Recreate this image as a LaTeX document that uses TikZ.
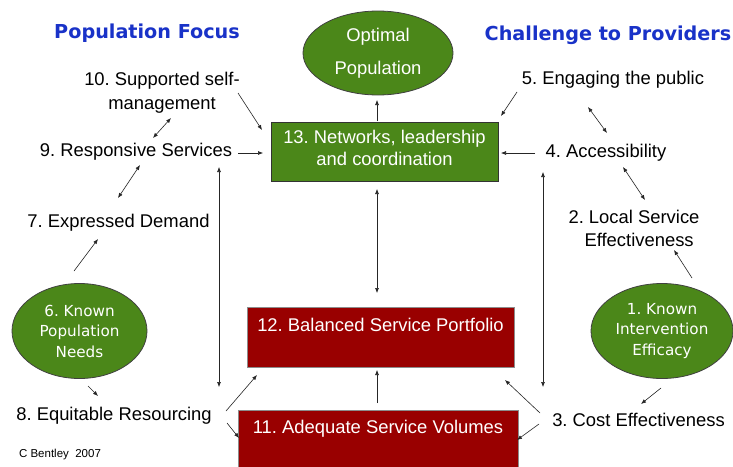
\documentclass[tikz,border=0pt]{standalone}
\usepackage{fontspec}
\setmainfont{Liberation Sans}
\newfontfamily\hdrfont{DejaVu Sans}
\usetikzlibrary{shapes.geometric,arrows.meta}
\definecolor{grn}{RGB}{75,135,25}
\definecolor{dred}{RGB}{153,0,0}
\definecolor{hblue}{RGB}{25,50,200}
\frenchspacing
\begin{document}
\begin{tikzpicture}[x=1pt,y=-1pt,
  lbl/.style={font=\fontsize{18.4}{24}\selectfont, inner sep=0pt, align=center},
  hdr/.style={font=\hdrfont\bfseries\fontsize{19.2}{22}\selectfont, text=hblue, inner sep=0pt, anchor=base},
  ell/.style={ellipse, draw=black!75, line width=0.8pt, fill=grn, text=white, inner sep=0pt, align=center},
  ellsm/.style={ell, font=\hdrfont\fontsize{15.2}{20.5}\selectfont},
  gbox/.style={draw=black!80, line width=0.8pt, fill=grn, text=white, inner sep=0pt, align=center, font=\fontsize{18.4}{22}\selectfont},
  rbox/.style={draw=black!45, line width=0.6pt, fill=dred, text=white, inner sep=0pt, font=\fontsize{18.4}{22}\selectfont},
  arr/.style={-{Latex[length=5pt,width=4pt]}, draw=black!85, line width=0.6pt},
  darr/.style={{Latex[length=5pt,width=4pt]}-{Latex[length=5pt,width=4pt]}, draw=black!85, line width=0.6pt}
]
\useasboundingbox[fill=white] (0,0) rectangle (733,466);

% headers
\node[hdr] (hpop) at (147,38) {Population Focus};
\node[hdr] (hchal) at (608,40) {Challenge to Providers};

% central boxes / ellipses
\node[ell, minimum width=150pt, minimum height=84pt, font=\fontsize{18.4}{33}\selectfont] (opt) at (378,53) {Optimal\\Population};
\node[gbox, minimum width=227pt, minimum height=59pt, text depth=7pt] (b13) at (384.5,151.5) {13. Networks, leadership\\and coordination};
\node[rbox, minimum width=267pt, minimum height=60pt, text height=13pt, text depth=25pt] (b12) at (380.5,337) {12. Balanced Service Portfolio};
\node[rbox, minimum width=280pt, minimum height=60pt, text height=13pt, text depth=27pt] (b11) at (378,440) {11. Adequate Service Volumes};

\node[ellsm, minimum width=135pt, minimum height=95pt] (e6) at (79.5,331) {6. Known\\Population\\Needs};
\node[ellsm, minimum width=142pt, minimum height=95pt] (e1) at (662,331) {1. Known\\Intervention\\Efficacy};

% labels
\node[lbl] (n10) at (162,93) {10. Supported self-\\management};
\node[lbl, anchor=base] (n9) at (136,156.5) {9. Responsive Services};
\node[lbl, anchor=base] (n7) at (118.5,227.5) {7. Expressed Demand};
\node[lbl, anchor=base] (n8) at (114,420.5) {8. Equitable Resourcing};
\node[inner sep=0pt, anchor=base, font=\fontsize{11.5}{13}\selectfont] (cb) at (60,457) {C Bentley \ 2007};
\node[lbl, anchor=base] (n5) at (613,84.5) {5. Engaging the public};
\node[lbl, anchor=base] (n4) at (606,157.5) {4. Accessibility};
\node[lbl, font=\fontsize{18.4}{23}\selectfont] (n2) at (634,228.5) {2. Local Service\\\ \ Effectiveness};
\node[lbl, anchor=base] (n3) at (638.5,426.5) {3. Cost Effectiveness};

% connector end points
\coordinate (a10s) at (238,93);   \coordinate (a10e) at (262,130);
\coordinate (a9s) at (238,153);   \coordinate (a9e) at (263,153);
\coordinate (a109a) at (171,118); \coordinate (a109b) at (153,138);
\coordinate (a97a) at (140,165);  \coordinate (a97b) at (118,198);
\coordinate (a67s) at (74,271);   \coordinate (a67e) at (98,239);
\coordinate (a68s) at (88,386);   \coordinate (a68e) at (98,396);
\coordinate (vLa) at (219,167);   \coordinate (vLb) at (219,387);
\coordinate (a812s) at (226,411); \coordinate (a812e) at (257,375);
\coordinate (a811s) at (227,423); \coordinate (a811e) at (239,438);
\coordinate (optb) at (377,121);  \coordinate (opte) at (377,100);
\coordinate (c1312a) at (377,189);\coordinate (c1312b) at (377,293);
\coordinate (c1112s) at (377,403);\coordinate (c1112e) at (377,370);
\coordinate (a5s) at (517,92);    \coordinate (a5e) at (501,116);
\coordinate (a54a) at (588,107);  \coordinate (a54b) at (607,133);
\coordinate (a4s) at (535,153);   \coordinate (a4e) at (501,153);
\coordinate (a42a) at (623,167);  \coordinate (a42b) at (645,200);
\coordinate (a12s) at (692,278);  \coordinate (a12e) at (674,250);
\coordinate (a13s) at (661,388);  \coordinate (a13e) at (641,404);
\coordinate (a312s) at (540,413); \coordinate (a312e) at (505,380);
\coordinate (a311s) at (539,424); \coordinate (a311e) at (517,440);
\coordinate (vRa) at (543,172);   \coordinate (vRb) at (543,387);

% connectors
\draw[arr] (a10s) -- (a10e);
\draw[arr] (a9s) -- (a9e);
\draw[darr] (a109a) -- (a109b);
\draw[darr] (a97a) -- (a97b);
\draw[arr] (a67s) -- (a67e);
\draw[arr] (a68s) -- (a68e);
\draw[darr] (vLa) -- (vLb);
\draw[arr] (a812s) -- (a812e);
\draw[arr] (a811s) -- (a811e);
\draw[arr] (optb) -- (opte);
\draw[darr] (c1312a) -- (c1312b);
\draw[arr] (c1112s) -- (c1112e);
\draw[arr] (a5s) -- (a5e);
\draw[darr] (a54a) -- (a54b);
\draw[arr] (a4s) -- (a4e);
\draw[darr] (a42a) -- (a42b);
\draw[arr] (a12s) -- (a12e);
\draw[arr] (a13s) -- (a13e);
\draw[arr] (a312s) -- (a312e);
\draw[arr] (a311s) -- (a311e);
\draw[darr] (vRa) -- (vRb);
\end{tikzpicture}
\end{document}
